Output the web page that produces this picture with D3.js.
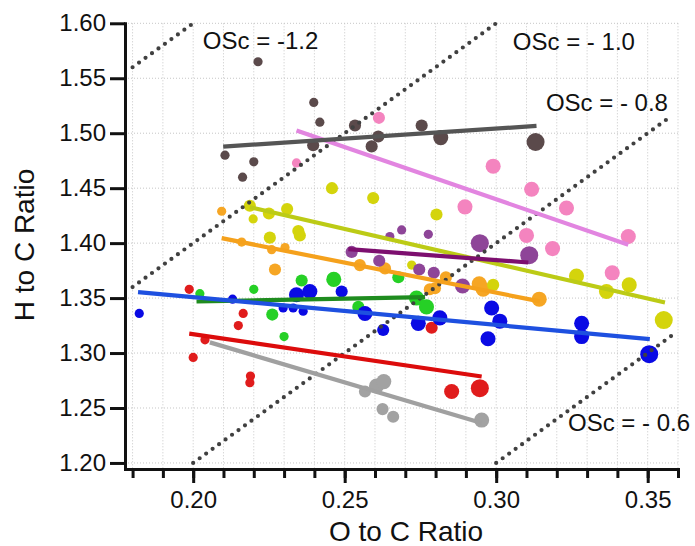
<!DOCTYPE html>
<html>
<head>
<meta charset="utf-8">
<script src="https://cdnjs.cloudflare.com/ajax/libs/d3/7.8.5/d3.min.js"></script>
<style>
body{margin:0;background:#fff;}
svg{font-family:"Liberation Sans",Arial,sans-serif;}
.grid line{stroke:#c6c6c6;stroke-width:1;stroke-dasharray:1,2;}
.axis path,.axis line{stroke:#111;stroke-width:3;}
.axis text{font-size:24px;fill:#111;}
.axis_label{font-size:28px;fill:#111;}
.osc_label{font-size:24px;fill:#111;}
.osc{stroke:#404040;stroke-width:4.2;stroke-linecap:round;stroke-dasharray:0,8;fill:none;}
.fit{stroke-width:4.2;fill:none;}
</style>
</head>
<body>
<div id="chart"></div>
<script>
//***************************
//DATA  [O/C, H/C, size class]
//***************************
var dark_pts=[[0.2105,1.480,1],[0.2163,1.460,1],[0.2200,1.474,1],[0.2214,1.565,1],[0.2398,1.528,1],[0.2418,1.510,1],
	[0.2396,1.489,2],[0.2534,1.507,2],[0.2589,1.488,2],[0.2611,1.497,2],[0.2754,1.507,2],[0.2817,1.496,3],[0.3130,1.492,4]];
var pink_pts=[[0.2341,1.473,1],[0.2613,1.514,2],[0.2897,1.433,3],[0.2990,1.470,3],[0.3100,1.407,3],[0.3117,1.449,3],
	[0.3186,1.395,3],[0.3232,1.432,3],[0.3383,1.373,3],[0.3436,1.406,3]];
var yellow_pts=[[0.2187,1.434,2],[0.2198,1.422,1],[0.2250,1.427,2],[0.2253,1.405,2],[0.2310,1.431,2],[0.2347,1.411,2],
	[0.2352,1.407,2],[0.2458,1.450,2],[0.2594,1.441,2],[0.2721,1.380,1],[0.2803,1.426,2],[0.2990,1.362,2],
	[0.3265,1.370,3],[0.3364,1.356,3],[0.3439,1.362,3],[0.3553,1.330,4]];
var purple_pts=[[0.2523,1.392,2],[0.2614,1.384,2],[0.2649,1.406,1],[0.2688,1.412,1],[0.2746,1.376,2],[0.2776,1.408,1],
	[0.2794,1.373,2],[0.2889,1.361,3],[0.2946,1.400,4],[0.3109,1.389,4]];
var orange_pts=[[0.2094,1.429,1],[0.2160,1.401,1],[0.2259,1.394,1],[0.2270,1.376,2],[0.2303,1.396,1],[0.2550,1.380,2],
	[0.2633,1.377,2],[0.2781,1.358,2],[0.2798,1.359,2],[0.2834,1.369,2],[0.2944,1.363,3],[0.2957,1.358,3],[0.3142,1.349,3]];
var green_pts=[[0.2022,1.354,1],[0.2200,1.358,1],[0.2261,1.335,2],[0.2300,1.315,1],[0.2358,1.366,2],[0.2464,1.367,3],
	[0.2545,1.342,2],[0.2677,1.369,2],[0.2737,1.350,3],[0.2770,1.342,3]];
var blue_pts=[[0.1822,1.336,1],[0.2130,1.349,1],[0.2297,1.341,1],[0.2330,1.341,1],[0.2363,1.338,1],[0.2341,1.353,3],
	[0.2385,1.356,3],[0.2490,1.356,2],[0.2567,1.336,3],[0.2627,1.321,2],[0.2743,1.327,3],[0.2814,1.332,3],
	[0.2985,1.341,3],[0.3012,1.329,3],[0.2973,1.313,3],[0.3282,1.327,3],[0.3282,1.315,3],[0.3505,1.299,4]];
var red_pts=[[0.1987,1.358,1],[0.2000,1.296,1],[0.2039,1.312,1],[0.2149,1.325,1],[0.2165,1.336,1],[0.2187,1.273,1],
	[0.2189,1.279,1],[0.2787,1.323,2],[0.2853,1.265,3],[0.2946,1.268,4]];
var gray_pts=[[0.2567,1.265,2],[0.2605,1.270,3],[0.2629,1.274,3],[0.2625,1.249,2],[0.2660,1.242,2],[0.2952,1.239,3]];

//fit lines [[O/C,H/C] start, end]
var dark_fit=[[0.2099,1.4878],[0.3133,1.5066]];
var pink_fit=[[0.2341,1.5024],[0.3436,1.3985]];
var yellow_fit=[[0.2187,1.4327],[0.3557,1.3460]];
var purple_fit=[[0.2512,1.3945],[0.3106,1.3824]];
var orange_fit=[[0.2094,1.4045],[0.3144,1.3470]];
var green_fit=[[0.2011,1.3469],[0.2765,1.3509]];
var blue_fit=[[0.1818,1.3555],[0.3507,1.3127]];
var red_fit=[[0.1987,1.3176],[0.2952,1.2787]];
var gray_fit=[[0.2055,1.3097],[0.2952,1.2364]];

//oxidation state lines H/C = 2*O/C - OSc
var osc_values=[-1.2,-1.0,-0.8,-0.6];
var osc_oc_range=[0.18,0.358];
var osc_hc_range=[1.20,1.60];
var osc_labels=["OSc = -1.2","OSc = - 1.0","OSc = - 0.8","OSc = - 0.6"];
var osc_label_oc=[0.2032,0.3055,0.3164,0.3237];
var osc_label_hc=[1.5766,1.5757,1.5203,1.2294];

var x_ticks=d3.range(18,37).map(function(d){return d/100;});
var x_labels=[0.20,0.25,0.30,0.35];
var y_ticks=[1.20,1.25,1.30,1.35,1.40,1.45,1.50,1.55,1.60];

//***************************
//STYLE
//***************************
var W=695,H=546;
var series=[
	{pts:gray_pts,fit:gray_fit,pc:"#a2a2a2",lc:"#a0a0a0"},
	{pts:red_pts,fit:red_fit,pc:"#e01c1c",lc:"#dc0c0c"},
	{pts:green_pts,fit:green_fit,pc:"#26d026",lc:"#1f8c1f"},
	{pts:blue_pts,fit:blue_fit,pc:"#0a0ae4",lc:"#1e50e0"},
	{pts:orange_pts,fit:orange_fit,pc:"#f6a624",lc:"#f5a11c"},
	{pts:yellow_pts,fit:yellow_fit,pc:"#d4d40c",lc:"#bccb16"},
	{pts:purple_pts,fit:purple_fit,pc:"#8e4598",lc:"#7d0f6f"},
	{pts:pink_pts,fit:pink_fit,pc:"#f484bf",lc:"#e285e0"},
	{pts:dark_pts,fit:dark_fit,pc:"#5b4a4b",lc:"#555555"}
];

var svg=d3.select("#chart").append("svg").attr("width",W).attr("height",H);

var x=d3.scaleLinear().domain([0.1775,0.36]).range([125,678]);
var y=d3.scaleLinear().domain([1.1945,1.60]).range([469,23.3]);
var r=d3.scaleLinear().domain([1,4]).range([4.6,9]);

//***************************
//GRID
//***************************
var g_grid=svg.append("g").attr("class","grid");
g_grid.selectAll(".gx").data(x_ticks).enter().append("line")
	.attr("x1",function(d){return x(d);}).attr("x2",function(d){return x(d);})
	.attr("y1",y(1.60)).attr("y2",y.range()[0]);
g_grid.selectAll(".gy").data(y_ticks).enter().append("line")
	.attr("x1",x.range()[0]).attr("x2",x.range()[1])
	.attr("y1",function(d){return y(d);}).attr("y2",function(d){return y(d);});

//***************************
//POINTS
//***************************
var g_points=svg.append("g");
series.forEach(function(s){
	g_points.selectAll(null).data(s.pts).enter().append("circle")
		.attr("cx",function(d){return x(d[0]);})
		.attr("cy",function(d){return y(d[1]);})
		.attr("r",function(d){return r(d[2]);})
		.attr("fill",s.pc);
});

//***************************
//OSc LINES
//***************************
var g_osc=svg.append("g");
osc_values.forEach(function(osc){
	var x0=Math.max(osc_oc_range[0],(osc_hc_range[0]+osc)/2);
	var x1=Math.min(osc_oc_range[1],(osc_hc_range[1]+osc)/2);
	g_osc.append("line").attr("class","osc")
		.attr("x1",x(x0)).attr("y1",y(2*x0-osc))
		.attr("x2",x(x1)).attr("y2",y(2*x1-osc));
});
svg.selectAll(".osc_label").data(osc_labels).enter().append("text")
	.attr("class","osc_label")
	.attr("x",function(d,i){return x(osc_label_oc[i]);})
	.attr("y",function(d,i){return y(osc_label_hc[i]);})
	.text(function(d){return d;});

//***************************
//FIT LINES
//***************************
var fitline=d3.line().x(function(d){return x(d[0]);}).y(function(d){return y(d[1]);});
series.forEach(function(s){
	svg.append("path").attr("class","fit").attr("stroke",s.lc).attr("d",fitline(s.fit));
});

//***************************
//AXES
//***************************
var minorAxis=d3.axisBottom(x).tickValues(x_ticks).tickSize(9).tickSizeOuter(0).tickFormat("");
var majorAxis=d3.axisBottom(x).tickValues(x_labels).tickSize(14).tickSizeOuter(0).tickPadding(8).tickFormat(d3.format(".2f"));
svg.append("g").attr("class","axis").attr("transform","translate(0,469)").call(minorAxis);
svg.append("g").attr("class","axis").attr("transform","translate(0,469)").call(majorAxis);

var leftAxis=d3.axisLeft(y).tickValues(y_ticks).tickSize(15).tickSizeOuter(0).tickPadding(4).tickFormat(d3.format(".2f"));
svg.append("g").attr("class","axis").attr("transform","translate(125,0)").call(leftAxis);
svg.selectAll(".axis path").attr("stroke-linecap","square");

svg.append("text").attr("class","axis_label")
	.attr("text-anchor","middle")
	.attr("transform","translate(34,245) rotate(-90)")
	.text("H to C Ratio");
svg.append("text").attr("class","axis_label")
	.attr("text-anchor","middle")
	.attr("x",406).attr("y",541)
	.text("O to C Ratio");
</script>
</body>
</html>
